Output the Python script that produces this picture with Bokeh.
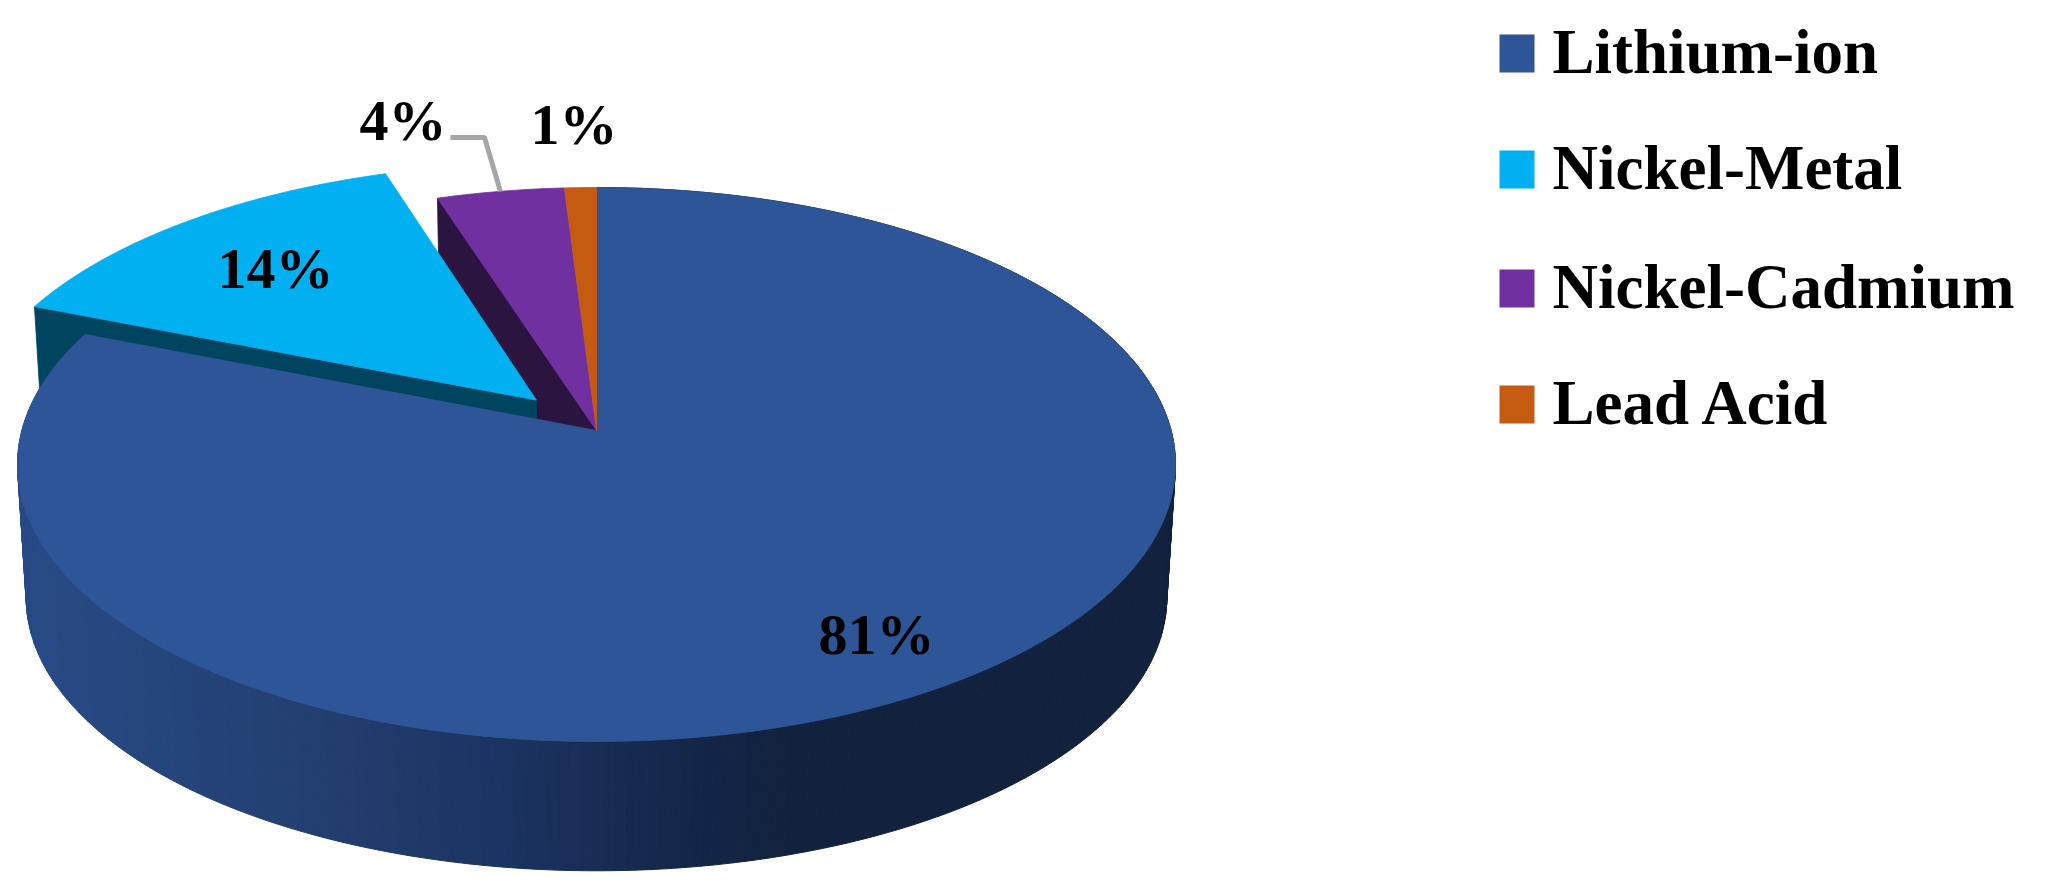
import numpy as np
from bokeh.plotting import figure
from bokeh.embed import file_html
from bokeh.resources import INLINE
from bokeh.core.properties import value

categories = ["Lithium-ion", "Nickel-Metal", "Nickel-Cadmium", "Lead Acid"]
shares = [81, 14, 4, 1]
pct_labels = ["81%", "14%", "4%", "1%"]
top_colors = ["#2E5597", "#00B0F0", "#7030A0", "#C55A11"]
side_colors = ["#1C3360", "#004460", "#2B1540", "#6B3009"]

# Perspective model of the pie, in page pixels
CX, CY, RX, RY, K = 596.0, 430.0, 574.6, 272.8, 0.1227
DEPTH, BOTTOM_SCALE = 134.0, 0.985
EXPLODE = [0.0, 0.155, 0.0, 0.0]
W, H = 2046, 888


def project(u, v, floor=False):
    d = 1 + K * v
    s = BOTTOM_SCALE if floor else 1.0
    return CX + s * RX * u / d, CY + (DEPTH if floor else 0.0) - s * RY * v / d


cum = np.concatenate([[0.0], np.cumsum(shares)]) * 3.6
starts, ends = np.radians(cum[:-1]), np.radians(cum[1:])


def rim(i, n=None):
    n = n or max(3, int(np.degrees(ends[i] - starts[i]) * 2))
    t = np.linspace(starts[i], ends[i], n)
    m = (starts[i] + ends[i]) / 2
    ox, oy = EXPLODE[i] * np.sin(m), EXPLODE[i] * np.cos(m)
    return np.sin(t) + ox, np.cos(t) + oy, ox, oy


def top_patch(i):
    u, v, ox, oy = rim(i)
    return project(np.r_[ox, u], np.r_[oy, v])


def radial_wall(i, t):
    m = (starts[i] + ends[i]) / 2
    ox, oy = EXPLODE[i] * np.sin(m), EXPLODE[i] * np.cos(m)
    u = np.array([ox, np.sin(t) + ox])
    v = np.array([oy, np.cos(t) + oy])
    x1, y1 = project(u, v)
    x2, y2 = project(u, v, True)
    return np.r_[x1, x2[::-1]], np.r_[y1, y2[::-1]]


# The ranges start at 0 so that data coordinates equal screenshot pixels
p = figure(width=W - 16, height=H - 16, x_range=(0, W - 16), y_range=(H - 16, 0),
           output_backend="svg", toolbar_location=None, min_border=0,
           outline_line_color=None, background_fill_color="white")
p.axis.visible = False
p.grid.visible = False


def solid(xs, ys, c):
    p.patch(list(xs), list(ys), fill_color=c, line_color=c, line_width=0.8)


# Back faces: purple side, then exploded cyan side
solid(*radial_wall(2, starts[2]), side_colors[2])
solid(*radial_wall(1, starts[1]), side_colors[1])
solid(*top_patch(1), top_colors[1])

# Lithium-ion outer wall, shaded left to right
stops_x = [15, 300, 500, 700, 800, 1180]
stops_rgb = np.array([[40, 75, 135], [36, 64, 114], [28, 52, 98], [20, 38, 72], [18, 34, 62], [18, 34, 62]])
t = np.linspace(starts[0], ends[0], 300)
u, v = np.sin(t), np.cos(t)
x1, y1 = project(u, v)
x2, y2 = project(u, v, True)
wx, wy, wc = [], [], []
for j in np.argsort(-v[:-1]):
    mx = (x1[j] + x1[j + 1]) / 2
    rgb = [int(np.interp(mx, stops_x, stops_rgb[:, c])) for c in range(3)]
    c = "#%02x%02x%02x" % tuple(rgb)
    wx.append([x1[j], x1[j + 1], x2[j + 1], x2[j]])
    wy.append([y1[j], y1[j + 1], y2[j + 1], y2[j]])
    wc.append(c)
p.patches(wx, wy, fill_color=wc, line_color=wc, line_width=1)

# Top faces
for i in (0, 2, 3):
    solid(*top_patch(i), top_colors[i])

# Leader line for the 4% label
mid = (starts[2] + ends[2]) / 2
lx, ly = project(np.sin(mid), np.cos(mid))
p.line([450, 484, lx], [137, 137, ly], line_color="#A6A6A6", line_width=5)

# Data labels (vertical centres of the digits)
label_x = [818, 217, 359, 530]
label_y = [634, 268, 120, 124]
p.text(label_x, label_y, text=pct_labels, text_font=value("Liberation Serif"),
       text_font_style="bold", text_font_size="58px", text_color="#000000",
       text_align="left", text_baseline="middle")

# Legend
base = np.array([71, 187, 306, 422], dtype=float)
p.quad(left=1499, right=1534, top=base - 37, bottom=base + 1, fill_color=top_colors, line_color=None)
p.text([1552] * 4, base - 20, text=categories, text_font=value("Liberation Serif"),
       text_font_style="bold", text_font_size="63px", text_color="#000000",
       text_align="left", text_baseline="middle")

open("out.html", "w").write(file_html(p, INLINE))
